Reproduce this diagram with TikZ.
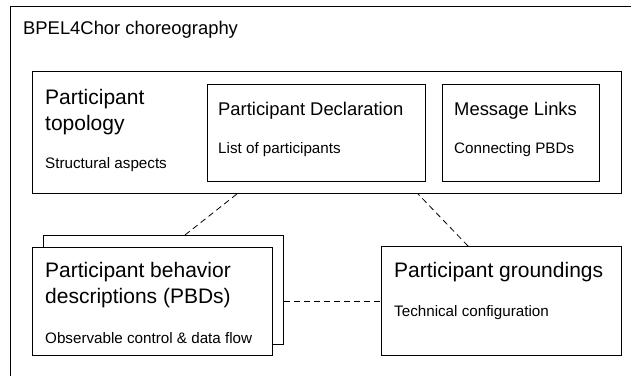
\documentclass[tikz,border=0pt]{standalone}
\usepackage{fontspec}
\setmainfont{Liberation Sans}
\usetikzlibrary{positioning}

\begin{document}
\begin{tikzpicture}
	[
		x=1pt, y=-1pt,
		box/.style = {shape=rectangle, draw=black, line width=0.9pt, fill=white, anchor=north west, inner sep=0pt},
		bigtext/.style = {anchor=base west, inner sep=0pt, align=left, font=\fontsize{21}{26}\selectfont},
		midtext/.style = {anchor=base west, inner sep=0pt, font=\fontsize{18.4}{22}\selectfont},
		smalltext/.style = {anchor=base west, inner sep=0pt, font=\fontsize{15.2}{18}\selectfont},
		link/.style = {draw=black, line width=0.8pt, dash pattern=on 6pt off 4pt}
	]
	
	\clip (0,0) rectangle (631,375);
	
	% choreography frame (runs off the page at right and bottom)
	\node [box, minimum width=640, minimum height=400] (chor) at (10,6) {};
	\node [midtext] (chortitle) at (23,34.5) {BPEL4Chor choreography};
	
	% topology with its two parts
	\node [box, minimum width=589, minimum height=122] (topo) at (32,71) {};
	\node [bigtext] (topotitle) at (45,130) {Participant\\topology};
	\node [smalltext] (topotext) at (45,168) {Structural aspects};
	
	\node [box, minimum width=218, minimum height=97] (decl) at (207,84) {};
	\node [midtext] (decltitle) at (218,115) {Participant Declaration};
	\node [smalltext] (decltext) at (218,153) {List of participants};
	
	\node [box, minimum width=157, minimum height=97] (links) at (442,84) {};
	\node [midtext] (linkstitle) at (454,115) {Message Links};
	\node [smalltext] (linkstext) at (454,153) {Connecting PBDs};
	
	% behavior descriptions (stacked)
	\node [box, minimum width=240, minimum height=109] (pbdback) at (43,235) {};
	\node [box, minimum width=240, minimum height=108] (pbd) at (32,247) {};
	\node [bigtext] (pbdtitle) at (45,303) {Participant behavior\\descriptions (PBDs)};
	\node [smalltext] (pbdtext) at (45,343) {Observable control \& data flow};
	
	% groundings
	\node [box, minimum width=240, minimum height=109] (grd) at (381,246) {};
	\node [bigtext] (grdtitle) at (394,277) {Participant groundings};
	\node [smalltext] (grdtext) at (394,316) {Technical configuration};
	
	% connectors
	\draw [link] ([xshift=142]pbdback.north west) -- ([xshift=205]topo.south west);
	\draw [link] ([xshift=87]grd.north west) -- ([xshift=386]topo.south west);
	\draw [link] (pbdback.east |- grd.west) -- (grd.west);
	
\end{tikzpicture}
\end{document}
